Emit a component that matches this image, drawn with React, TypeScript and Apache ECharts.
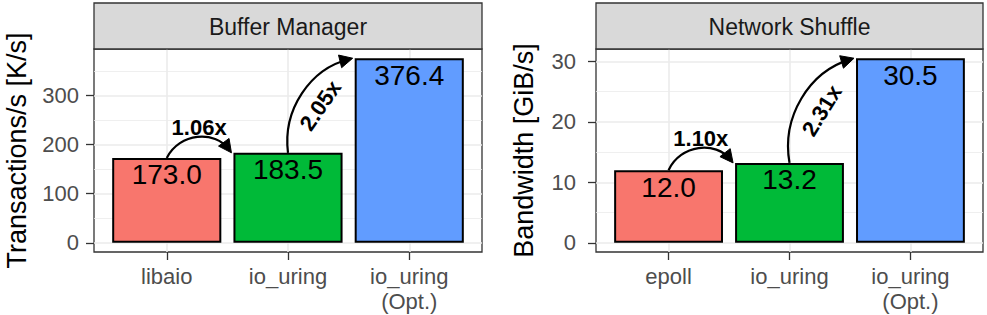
import React, { useEffect, useRef } from 'react';
import * as echarts from 'echarts';

// ---------- data ----------
const panelTitles = ['Buffer Manager', 'Network Shuffle'];
const yAxisTitles = ['Transactions/s [K/s]', 'Bandwidth [GiB/s]'];
const bmCategories = ['libaio', 'io_uring', 'io_uring\n(Opt.)'];
const bmValues = [173.0, 183.5, 376.4];
const nsCategories = ['epoll', 'io_uring', 'io_uring\n(Opt.)'];
const nsValues = [12.0, 13.2, 30.5];
const bmTicks = [0, 100, 200, 300];
const nsTicks = [0, 10, 20, 30];
const barColors = ['#F8766D', '#00BA38', '#619CFF'];
// speed-up arrows: [from bar index, to bar index, curvature]
const arrowPairs: [number, number, number][] = [
  [0, 1, 0.56],
  [1, 2, 0.38],
];

// ---------- layout ----------
const W = 987;
const H = 315;
const PANELS = [
  { left: 94, width: 388, nameGap: 64, labelMargin: 15 },
  { left: 596, width: 387, nameGap: 59, labelMargin: 20 },
];
const TOP = 49;
const PH = 203;
const STRIP_TOP = 3;
const FONT = "'Liberation Sans', Arial, Helvetica, sans-serif";

const panelData = [
  { title: panelTitles[0], yTitle: yAxisTitles[0], cats: bmCategories, values: bmValues, ticks: bmTicks },
  { title: panelTitles[1], yTitle: yAxisTitles[1], cats: nsCategories, values: nsValues, ticks: nsTicks },
];

function arcArrow(p0: number[], p3: number[], h: number) {
  const dx = p3[0] - p0[0];
  const dy = p3[1] - p0[1];
  const L = Math.hypot(dx, dy);
  const ux = dx / L;
  const uy = dy / L;
  const nx = uy;
  const ny = -ux;
  const a = 2 * Math.atan(h);
  const r = L / 2 / Math.sin(a);
  const k = (4 / 3) * Math.tan(a / 2) * r;
  const t0 = [Math.cos(a) * ux + Math.sin(a) * nx, Math.cos(a) * uy + Math.sin(a) * ny];
  const t3 = [Math.cos(a) * ux - Math.sin(a) * nx, Math.cos(a) * uy - Math.sin(a) * ny];
  return {
    c1: [p0[0] + k * t0[0], p0[1] + k * t0[1]],
    c2: [p3[0] - k * t3[0], p3[1] - k * t3[1]],
    t3,
  };
}

export default function App() {
  const ref = useRef<HTMLDivElement>(null);

  useEffect(() => {
    if (!ref.current) return;
    const chart = echarts.init(ref.current, undefined, { renderer: 'svg', width: W, height: H });

    const option: any = {
      animation: false,
      backgroundColor: '#ffffff',
      grid: PANELS.map((p) => ({
        left: p.left,
        top: TOP,
        width: p.width,
        height: PH,
        show: true,
        backgroundColor: '#ffffff',
        borderColor: '#333333',
        borderWidth: 1.3,
        containLabel: false,
        outerBoundsMode: 'none',
      })),
      xAxis: panelData.map((pd, i) => ({
        type: 'value',
        gridIndex: i,
        position: 'bottom',
        min: -0.6,
        max: pd.cats.length - 0.4,
        splitNumber: 3,
        axisLine: { show: false, onZero: false },
        axisTick: {
          show: true,
          customValues: pd.cats.map((_, k) => k),
          length: 8,
          lineStyle: { color: '#333333', width: 1.3 },
        },
        axisLabel: {
          customValues: pd.cats.map((_, k) => k),
          formatter: (v: number) => pd.cats[Math.round(v)] ?? '',
          fontSize: 22,
          lineHeight: 25,
          color: '#4d4d4d',
          fontFamily: FONT,
          margin: 12,
        },
        splitLine: { show: true, lineStyle: { color: '#ebebeb', width: 1.6 } },
        minorSplitLine: { show: false },
      })),
      yAxis: panelData.map((pd, i) => {
        const mx = Math.max(...pd.values);
        return {
          type: 'value',
          gridIndex: i,
          position: 'left',
          min: -0.05 * mx,
          max: 1.05 * mx,
          splitNumber: 3,
          name: pd.yTitle,
          nameLocation: 'middle',
          nameGap: PANELS[i].nameGap,
          nameRotate: 90,
          nameTextStyle: { fontSize: 27, color: '#000000', fontFamily: FONT },
          axisLine: { show: false, onZero: false },
          axisTick: {
            show: true,
            customValues: pd.ticks,
            length: 8,
            lineStyle: { color: '#333333', width: 1.3 },
          },
          axisLabel: {
            customValues: pd.ticks,
            fontSize: 22,
            color: '#4d4d4d',
            fontFamily: FONT,
            margin: PANELS[i].labelMargin,
          },
          splitLine: { show: true, lineStyle: { color: '#ebebeb', width: 1.6 } },
          minorTick: { show: false, splitNumber: 2 },
          minorSplitLine: { show: true, lineStyle: { color: '#ebebeb', width: 0.8 } },
        };
      }),
      series: panelData.map((pd, i) => ({
        type: 'bar',
        xAxisIndex: i,
        yAxisIndex: i,
        barWidth: '90%',
        data: pd.values.map((v, k) => ({ value: [k, v], itemStyle: { color: barColors[k] } })),
        itemStyle: { borderColor: '#000000', borderWidth: 2 },
        label: {
          show: true,
          position: 'insideTop',
          distance: 3,
          fontSize: 28,
          color: '#000000',
          fontFamily: FONT,
          textBorderWidth: 0,
          formatter: (p: any) => Number(p.value[1]).toFixed(1),
        },
      })),
    };
    chart.setOption(option);

    // ---- annotations: facet strips and speed-up arrows ----
    const graphics: any[] = [];
    panelData.forEach((pd, i) => {
      const p = PANELS[i];
      graphics.push({
        type: 'rect',
        z: 10,
        shape: { x: p.left, y: STRIP_TOP, width: p.width, height: TOP - STRIP_TOP },
        style: { fill: '#d9d9d9', stroke: '#333333', lineWidth: 1.3 },
      });
      graphics.push({
        type: 'text',
        z: 11,
        x: p.left + p.width / 2,
        y: (STRIP_TOP + TOP) / 2 + 1,
        style: {
          text: pd.title,
          fontSize: 23,
          fontFamily: FONT,
          fill: '#1a1a1a',
          align: 'center',
          verticalAlign: 'middle',
        },
      });

      const px = (x: number, y: number) =>
        chart.convertToPixel({ xAxisIndex: i, yAxisIndex: i } as any, [x, y]) as number[];
      const unit = px(1, 0)[0] - px(0, 0)[0];
      const halfBar = (unit * 0.9) / 2;

      arrowPairs.forEach(([a, b, h]) => {
        const p0 = px(a, pd.values[a]);
        const tgt = px(b, pd.values[b]);
        const p3 = [tgt[0] - halfBar - 2, tgt[1]];
        const { c1, c2, t3 } = arcArrow(p0, p3, h);
        const hl = 13;
        const hw = 6.5;
        const bx = p3[0] - t3[0] * hl;
        const by = p3[1] - t3[1] * hl;
        const perp = [-t3[1], t3[0]];
        graphics.push({
          type: 'bezierCurve',
          z: 12,
          shape: {
            x1: p0[0], y1: p0[1],
            cpx1: c1[0], cpy1: c1[1],
            cpx2: c2[0], cpy2: c2[1],
            x2: p3[0] - t3[0] * 4, y2: p3[1] - t3[1] * 4,
          },
          style: { stroke: '#000000', lineWidth: 2.2, fill: 'none' },
        });
        graphics.push({
          type: 'polygon',
          z: 12,
          shape: {
            points: [
              [p3[0], p3[1]],
              [bx + perp[0] * hw, by + perp[1] * hw],
              [bx - perp[0] * hw, by - perp[1] * hw],
            ],
          },
          style: { fill: '#000000', stroke: '#000000', lineWidth: 1 },
        });
        const mx = (p0[0] + p3[0]) / 2;
        const my = (p0[1] + p3[1]) / 2;
        const ang = Math.atan2(-(p3[1] - p0[1]), p3[0] - p0[0]);
        const text = (pd.values[b] / pd.values[a]).toFixed(2) + 'x';
        const rotated = Math.abs(ang) > 0.35;
        graphics.push({
          type: 'text',
          z: 13,
          x: mx,
          y: rotated ? my : my - 28,
          rotation: rotated ? ang : 0,
          style: {
            text,
            fontSize: 22,
            fontWeight: 'bold',
            fontFamily: FONT,
            fill: '#000000',
            align: 'center',
            verticalAlign: 'middle',
          },
        });
      });
    });
    chart.setOption({ graphic: graphics });

    return () => {
      chart.dispose();
    };
  }, []);

  return (
    <div
      ref={ref}
      style={{ position: 'absolute', left: 0, top: 0, width: W, height: H, background: '#ffffff' }}
    />
  );
}
